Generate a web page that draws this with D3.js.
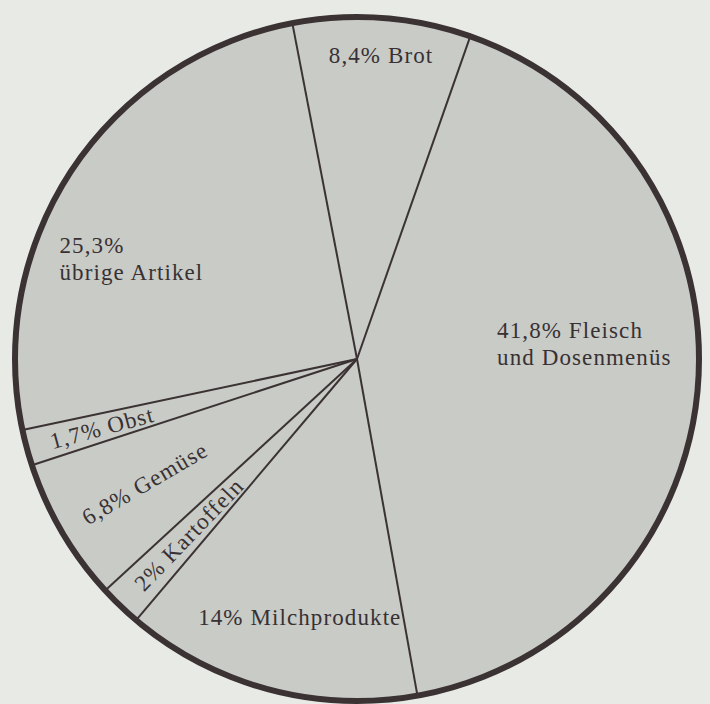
<!DOCTYPE html>
<html>
<head>
<meta charset="utf-8">
<script src="https://cdn.jsdelivr.net/npm/d3@7"></script>
<style>
  html, body { margin: 0; padding: 0; background: #e8eae5; }
  svg { display: block; }
  .lbl { font-family: "Liberation Serif", "Times New Roman", serif; font-size: 23px; letter-spacing: 1.1px; fill: #383134; }
</style>
</head>
<body>
<div class="chart"></div>
<script>
/* global d3 */

//Chart data (clockwise from the top)
var categories = ['Brot', 'Fleisch und Dosenmenüs', 'Milchprodukte', 'Kartoffeln', 'Gemüse', 'Obst', 'übrige Artikel'];
var shares = [8.4, 41.8, 14, 2, 6.8, 1.7, 25.3];
var labelLines = [
  ['8,4% Brot'],
  ['41,8% Fleisch', 'und Dosenmenüs'],
  ['14% Milchprodukte'],
  ['2% Kartoffeln'],
  ['6,8% Gemüse'],
  ['1,7% Obst'],
  ['25,3%', 'übrige Artikel']
];

var width = 710, height = 704;
var cx = 357, cy = 359, radius = 342;
var deg = Math.PI / 180;
var startAngle = -10.9 * deg;

//Label placement: radius, angle shift from slice middle, rotate along the radius or not
var labelLayout = [
  { r: 305, da: 0.3, anchor: 'middle', rotate: false },
  { r: 141, da: -11, anchor: 'start', rotate: false },
  { r: 264, da: -2.5, anchor: 'middle', rotate: false },
  { r: 243, da: 0, anchor: 'middle', rotate: true },
  { r: 246, da: 0, anchor: 'middle', rotate: true },
  { r: 264, da: 0, anchor: 'middle', rotate: true },
  { r: 314, da: -14.9, anchor: 'start', rotate: false }
];

var data = categories.map(function(c, i){ return { name: c, value: shares[i], lines: labelLines[i] }; });

var svg = d3.select('.chart').append('svg')
  .attr('width', width).attr('height', height);

var g = svg.append('g').attr('transform', 'translate(' + cx + ',' + cy + ')');

var pie = d3.pie().sort(null).value(function(d){ return d.value; })
  .startAngle(startAngle).endAngle(startAngle + 2 * Math.PI);
var arcs = pie(data);

var arc = d3.arc().innerRadius(0).outerRadius(radius);

//Slices
g.selectAll('.slice').data(arcs).enter().append('path')
  .attr('class', 'slice')
  .attr('d', arc)
  .style('fill', '#c9cbc6')
  .style('stroke', 'none');

//Dividing lines from the centre
g.selectAll('.divider').data(arcs).enter().append('line')
  .attr('class', 'divider')
  .attr('x1', 0).attr('y1', 0)
  .attr('x2', function(d){ return radius * Math.sin(d.startAngle); })
  .attr('y2', function(d){ return -radius * Math.cos(d.startAngle); })
  .style('stroke', '#3b3234')
  .style('stroke-width', 2);

//Outer ring
g.append('circle').attr('r', radius)
  .style('fill', 'none')
  .style('stroke', '#3b3234')
  .style('stroke-width', 6);

//Labels
var lineHeight = 27;
arcs.forEach(function(d, i){
  var lay = labelLayout[i];
  var mid = (d.startAngle + d.endAngle) / 2;
  var a = mid + lay.da * deg;
  var x = lay.r * Math.sin(a), y = -lay.r * Math.cos(a);
  var t = g.append('text').attr('class', 'lbl').attr('text-anchor', lay.anchor);
  if(lay.rotate){
    var rot = mid / deg - 270;
    t.attr('transform', 'translate(' + x + ',' + y + ') rotate(' + rot + ')')
      .attr('dy', '0.35em')
      .text(d.data.lines[0]);
    return;
  }
  var n = d.data.lines.length;
  var y0 = y - (n - 1) * lineHeight / 2 + 8;
  d.data.lines.forEach(function(line, j){
    t.append('tspan').attr('x', x).attr('y', y0 + j * lineHeight).text(line);
  });
});
</script>
</body>
</html>
